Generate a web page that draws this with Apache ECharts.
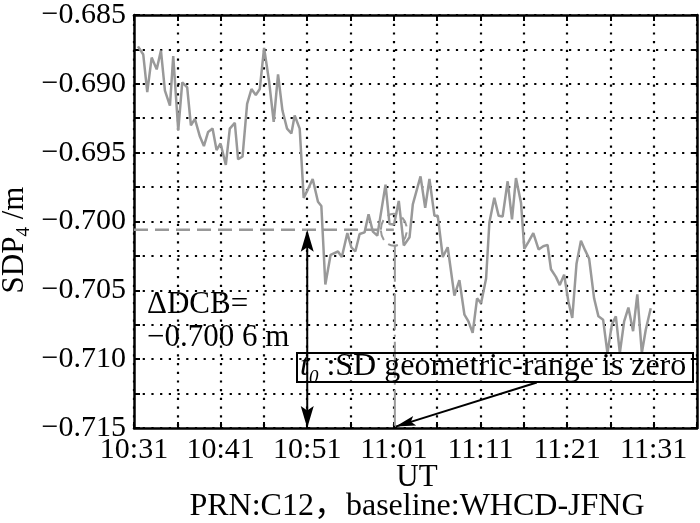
<!DOCTYPE html>
<html><head><meta charset="utf-8">
<script src="https://cdn.jsdelivr.net/npm/echarts@6/dist/echarts.min.js"></script>
<style>html,body{margin:0;padding:0;background:#fff}#c{width:700px;height:523px}</style>
</head><body><div id="c"></div>
<script>
// minutes after 10:31 UT
const times = [0.46,1.07,1.53,2.04,2.62,3.11,3.57,4.15,4.53,5.11,5.57,6.14,6.57,7.03,7.61,8.07,8.56,9.07,9.53,9.99,
10.6,11.06,11.64,12.02,12.53,13.06,13.56,14.06,14.52,15.02,15.59,16.13,16.63,17.14,17.67,18.17,18.55,19.13,19.59,20.05,
20.63,21.24,21.63,22.09,22.7,23.55,24.0,24.63,25.09,25.55,26.05,26.62,27.08,27.58,28.09,29.04,29.5,30.02,30.57,31.15,
31.81,32.19,33.08,33.62,34.11,34.69,35.07,35.65,36.22,36.99,37.57,38.15,38.61,39.1,39.61,40.07,40.65,41.03,41.6,42.1,
42.56,43.14,43.64,44.1,44.68,45.06,45.56,46.1,46.71,47.25,47.75,48.14,48.71,49.16,49.66,50.15,50.6,51.09,51.6,52.09,
52.55,53.12,53.62,54.16,54.66,55.17,55.63,56.09,56.59,57.08,57.62,58.11,58.63,59.09,59.66];
const sdp4 = [-0.68728,-0.68787,-0.69060,-0.68809,-0.68895,-0.68758,-0.69050,-0.69158,-0.68799,-0.69338,
-0.68990,-0.69026,-0.69302,-0.69254,-0.69383,-0.69452,-0.69349,-0.69325,-0.69481,-0.69433,
-0.69589,-0.69325,-0.69284,-0.69548,-0.69528,-0.69146,-0.69038,-0.69081,-0.69038,-0.68739,
-0.68979,-0.69277,-0.68931,-0.69194,-0.69325,-0.69361,-0.69230,-0.69325,-0.69828,-0.69770,
-0.69691,-0.69857,-0.69887,-0.70457,-0.70242,-0.70218,-0.70258,-0.70084,-0.70187,-0.70218,
-0.70091,-0.70079,-0.69948,-0.70074,-0.70103,-0.69732,-0.70019,-0.70022,-0.69851,-0.70174,
-0.70115,-0.69876,-0.69672,-0.69900,-0.69691,-0.69959,-0.69959,-0.70258,-0.70187,-0.70538,
-0.70426,-0.70677,-0.70725,-0.70809,-0.70558,-0.70594,-0.70414,-0.70007,-0.69828,-0.69959,
-0.69964,-0.69708,-0.69984,-0.69684,-0.69864,-0.70199,-0.70146,-0.70084,-0.70203,-0.70180,
-0.70170,-0.70347,-0.70402,-0.70462,-0.70386,-0.70581,-0.70701,-0.70307,-0.70139,-0.70210,
-0.70271,-0.70558,-0.70689,-0.70713,-0.70955,-0.70749,-0.70689,-0.70955,-0.70725,-0.70625,
-0.70797,-0.70529,-0.70955,-0.70785,-0.70630];
const xTickLabels = ['10:31','10:41','10:51','11:01','11:11','11:21','11:31'];
const dcbValue = -0.7006;
const t0Minute = 30;
const arrowMinute = 20;
const yMin = -0.715, yMax = -0.685;
const pointerStart = [46.5, -0.7117];
const pointerEnd = [30.2, -0.7149];

const FONT = 'Liberation Serif';
const chart = echarts.init(document.getElementById('c'));

const gridLine = {show:true, lineStyle:{color:'#000', type:[2.2,6.5], width:2.2}};
const baseX = {type:'value', min:0, max:65, interval:5,
  axisLine:{show:true, onZero:false, lineStyle:{color:'#000', width:2.5}},
  axisTick:{show:true, inside:true, length:6, lineStyle:{color:'#000', width:2}}};
const baseY = {type:'value', min:yMin, max:yMax, interval:0.0025, scale:true,
  axisLine:{show:true, onZero:false, lineStyle:{color:'#000', width:2.5}},
  axisTick:{show:true, inside:true, length:6, lineStyle:{color:'#000', width:2}}};

chart.setOption({
  animation:false,
  grid:{left:134, right:2, top:10, bottom:95, containLabel:false},
  xAxis:[
    Object.assign({}, baseX, {position:'bottom', splitLine:gridLine,
      axisLabel:{show:true, margin:7, fontFamily:FONT, fontSize:30, color:'#000',
        formatter:(v)=> (Math.round(v)%10===0 ? xTickLabels[Math.round(v)/10] : '')}}),
    Object.assign({}, baseX, {position:'top', splitLine:{show:false}, axisLabel:{show:false}})
  ],
  yAxis:[
    Object.assign({}, baseY, {position:'left', splitLine:gridLine,
      axisLabel:{show:true, margin:8, fontFamily:FONT, fontSize:30, color:'#000',
        formatter:(v)=> (Math.round(v*10000)%50===0 ? '\u2212'+Math.abs(v).toFixed(3) : '')}}),
    Object.assign({}, baseY, {position:'right', splitLine:{show:false}, axisLabel:{show:false}})
  ],
  series:[
    {type:'line', data:times.map((t,i)=>[t, sdp4[i]]), symbol:'none',
      lineStyle:{color:'#999', width:2.5}, z:5},
    {type:'line', data:[[0,dcbValue],[t0Minute,dcbValue]], symbol:'none',
      lineStyle:{color:'#999', width:2.5, type:[14,7]}, z:4},
  ]
});

const P = (p)=>chart.convertToPixel({gridIndex:0}, p);
function head(tip, from, L, W){
  const dx=tip[0]-from[0], dy=tip[1]-from[1], len=Math.hypot(dx,dy);
  const ux=dx/len, uy=dy/len, nx=-uy, ny=ux;
  const bx=tip[0]-ux*L, by=tip[1]-uy*L, mx=tip[0]-ux*L*0.8, my=tip[1]-uy*L*0.8;
  return {type:'polygon', z:100, shape:{points:[tip,[bx+nx*W/2,by+ny*W/2],[mx,my],[bx-nx*W/2,by-ny*W/2]]}, style:{fill:'#000'}};
}
const aTop = P([arrowMinute, dcbValue]), aBot = P([arrowMinute, yMin]);
const pS = P(pointerStart), pE = P(pointerEnd);
const c0 = P([t0Minute, dcbValue]);
const t0Bot = P([t0Minute, yMin]);
const ry = 16, rx = 13;

chart.setOption({graphic:[
  {type:'line', z:99, shape:{x1:aTop[0], y1:aTop[1]+6, x2:aBot[0], y2:aBot[1]-6}, style:{stroke:'#000', lineWidth:2}},
  head(aTop, aBot, 22, 13), head(aBot, aTop, 22, 13),
  {type:'line', z:99, shape:{x1:pS[0], y1:pS[1], x2:pE[0], y2:pE[1]}, style:{stroke:'#000', lineWidth:2}},
  head(pE, pS, 20, 10),
  {type:'ellipse', z:6, shape:{cx:c0[0], cy:c0[1], rx:rx, ry:ry}, style:{fill:null, stroke:'#999', lineWidth:2, lineDash:[10,6]}},
  {type:'line', z:6, shape:{x1:c0[0]+1, y1:c0[1]+ry, x2:t0Bot[0]+1, y2:t0Bot[1]}, style:{stroke:'#999', lineWidth:2, lineDash:[36,5,2,5]}},
  {type:'text', z:100, x:147, y:305, style:{text:'\u0394DCB=', font:'31px "Liberation Serif"', fill:'#000', verticalAlign:'middle'}},
  {type:'text', z:100, x:147, y:338, style:{text:'\u22120.700 6 m', font:'31px "Liberation Serif"', fill:'#000', verticalAlign:'middle'}},
  {type:'rect', z:100, shape:{x:297, y:353, width:396, height:29}, style:{fill:null, stroke:'#000', lineWidth:2}},
  {type:'text', z:100, x:300, y:368, style:{text:'{i|t}{s|0}{n| :SD geometric-range is zero}', fill:'#000', verticalAlign:'middle',
    rich:{i:{fontFamily:FONT, fontStyle:'italic', fontSize:32, lineHeight:30, verticalAlign:'bottom'},
          s:{fontFamily:FONT, fontStyle:'italic', fontSize:19, lineHeight:18, verticalAlign:'bottom', padding:[0,0,-4,0]},
          n:{fontFamily:FONT, fontSize:32, lineHeight:30, verticalAlign:'bottom'}}}},
  {type:'text', z:100, x:15, y:240, rotation:Math.PI/2, style:{text:'{a|SDP}{b|4}{a| /m}', fill:'#000', align:'center', verticalAlign:'middle',
    rich:{a:{fontFamily:FONT, fontSize:31, lineHeight:30, verticalAlign:'bottom'},
          b:{fontFamily:FONT, fontSize:19, lineHeight:19, verticalAlign:'bottom', padding:[0,0,-4,0]}}}},
  {type:'text', z:100, x:417, y:478, style:{text:'UT', font:'31px "Liberation Serif"', fill:'#000', align:'center', verticalAlign:'middle'}},
  {type:'text', z:100, x:417, y:507, style:{text:'PRN:C12\uFF0Cbaseline:WHCD-JFNG', font:'32px "Liberation Serif","Noto Sans CJK SC"', fill:'#000', align:'center', verticalAlign:'middle'}}
]});
</script></body></html>
